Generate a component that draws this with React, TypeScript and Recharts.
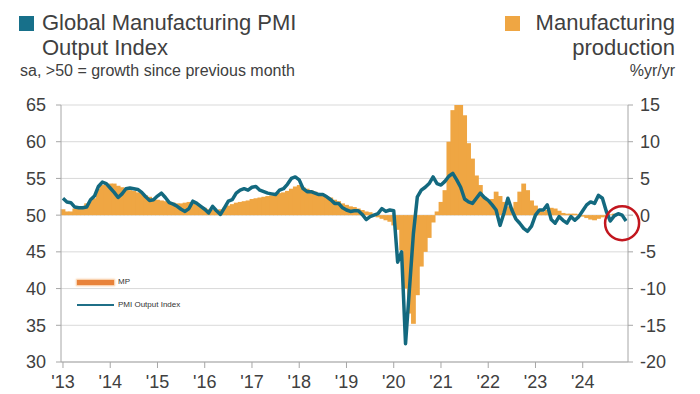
import React from 'react'
import {
  ComposedChart, Bar, Line, XAxis, YAxis, CartesianGrid, ReferenceDot,
} from 'recharts'

const YEARS = [2013, 2014, 2015, 2016, 2017, 2018, 2019, 2020, 2021, 2022, 2023, 2024]
const MONTHS = ['01', '02', '03', '04', '05', '06', '07', '08', '09', '10', '11', '12']

// Global Manufacturing PMI Output Index (sa)
const PMI_OUTPUT = [
  52.3, 51.8, 51.7, 51.1, 51.0, 51.0, 51.1, 52.1, 52.6, 53.9, 54.5, 54.3, // 2013
  53.7, 53.1, 52.4, 52.9, 53.6, 53.7, 53.6, 53.5, 53.1, 52.5, 52.0, 52.1, // 2014
  52.6, 53.0, 52.4, 51.7, 51.5, 51.2, 50.8, 50.5, 50.9, 51.9, 51.6, 51.2, // 2015
  50.8, 50.3, 51.2, 50.6, 50.1, 51.0, 51.9, 52.1, 53.0, 53.4, 53.6, 53.4, // 2016
  53.8, 53.9, 53.4, 53.2, 53.0, 52.9, 52.8, 53.4, 53.6, 54.2, 55.0, 55.2, // 2017
  54.8, 53.6, 53.2, 53.2, 53.0, 52.8, 52.8, 52.5, 52.1, 51.6, 51.6, 51.0, // 2018
  50.7, 50.5, 50.6, 50.6, 50.1, 49.4, 49.8, 50.0, 50.2, 50.9, 50.5, 50.7, // 2019
  50.6, 43.6, 45.0, 32.5, 40.0, 47.5, 52.5, 53.4, 53.8, 54.3, 55.2, 54.3, // 2020
  54.1, 54.6, 55.3, 55.7, 54.8, 53.8, 52.2, 51.8, 51.6, 52.3, 53.0, 52.4, // 2021
  52.0, 51.4, 50.7, 48.6, 50.3, 52.3, 50.7, 49.5, 48.9, 48.2, 47.8, 48.5, // 2022
  50.0, 50.7, 50.7, 51.4, 49.4, 48.9, 49.8, 49.3, 48.9, 49.8, 49.3, 49.8, // 2023
  50.6, 51.4, 51.8, 51.6, 52.7, 52.3, 50.5, 49.2, 49.9, 50.2, 50.0, 49.2, // 2024
]

// Manufacturing production, %yr/yr
const MFG_PRODUCTION = [
  0.8, 0.5, 0.5, 0.9, 1.0, 1.1, 1.6, 1.9, 2.3, 3.6, 4.1, 4.2,
  4.3, 4.3, 4.0, 3.8, 3.5, 3.4, 3.3, 3.1, 3.0, 2.7, 2.5, 2.3,
  2.1, 2.0, 1.9, 1.8, 1.7, 1.6, 1.6, 1.7, 1.8, 1.6, 1.4, 1.2,
  1.0, 0.8, 0.7, 0.7, 0.8, 1.0, 1.3, 1.5, 1.7, 1.8, 1.9, 2.0,
  2.2, 2.3, 2.4, 2.5, 2.6, 2.7, 2.8, 3.0, 3.1, 3.3, 3.6, 3.9,
  4.1, 3.8, 3.6, 3.4, 3.2, 3.0, 2.8, 2.6, 2.4, 2.1, 1.9, 1.6,
  1.4, 1.2, 1.1, 0.9, 0.7, 0.5, 0.4, 0.2, -0.3, -0.5, -0.7, -0.9,
  -1.4, -2.0, -4.8, -10.0, -13.4, -14.8, -10.9, -7.0, -5.0, -3.1, -1.0, 0.5,
  1.8, 3.4, 10.0, 14.3, 15.0, 15.0, 13.6, 9.8, 7.7, 5.4, 4.1, 2.5,
  2.0, 2.2, 3.2, 2.6, 1.8, 1.2, 1.0, 1.8, 3.2, 4.3, 3.4, 2.0,
  1.3, 0.8, 0.5, 0.7, 1.0, 0.9, 0.6, 0.3, 0.2, 0.2, 0.2, 0.1,
  -0.2, -0.4, -0.6, -0.7, -0.5, -0.3, -0.1, 0.1, 0.2, 0.2, null, null,
]

const LEFT_TICKS = [30, 35, 40, 45, 50, 55, 60, 65]
const RIGHT_TICKS = [-20, -15, -10, -5, 0, 5, 10, 15]

const TEAL = '#13697f'
const ORANGE = '#efa643'
const TEXT = '#404040'
const AXIS = '#a6a6a6'

const months = YEARS.flatMap((y) => MONTHS.map((m) => `${y}-${m}`))
const data = months.map((m, i) => ({ m, pmi: PMI_OUTPUT[i], prod: MFG_PRODUCTION[i] }))
const yearTicks = YEARS.map((y) => `${y}-01`)

const tickStyle = { fontSize: 18, fill: TEXT }

// fill the whole month band so the bars read as one stepped area
const StepBar = (p: any) => {
  if (p.height == null || p.y == null) return <g />
  const bx = p.background && p.background.width ? p.background.x : p.x
  const bw = p.background && p.background.width ? p.background.width : p.width
  const top = Math.min(p.y, p.y + p.height)
  const h = Math.abs(p.height)
  return <rect x={bx - 0.4} y={top} width={bw + 0.8} height={h} fill={ORANGE} />
}

export default function App() {
  return (
    <div
      style={{
        position: 'fixed', left: 0, top: 0, width: 700, height: 394,
        background: '#fff', fontFamily: '"Liberation Sans", Arial, sans-serif', color: TEXT,
      }}
    >
      {/* left title */}
      <div style={{ position: 'absolute', left: 19, top: 16, width: 15, height: 15, background: '#17708a' }} />
      <div style={{ position: 'absolute', left: 42, top: 10, fontSize: 22, lineHeight: '25px' }}>
        Global Manufacturing PMI<br />Output Index
      </div>
      <div style={{ position: 'absolute', left: 20, top: 61, fontSize: 16, lineHeight: '20px' }}>
        sa, &gt;50 = growth since previous month
      </div>

      {/* right title */}
      <div style={{ position: 'absolute', left: 505, top: 16, width: 15, height: 15, background: ORANGE }} />
      <div style={{ position: 'absolute', right: 25, top: 10, fontSize: 22, lineHeight: '25px', textAlign: 'right' }}>
        Manufacturing<br />production
      </div>
      <div style={{ position: 'absolute', right: 25, top: 61, fontSize: 16, lineHeight: '20px' }}>
        %yr/yr
      </div>

      <div style={{ position: 'absolute', left: 0, top: 0 }}>
        <ComposedChart
          width={700}
          height={394}
          data={data}
          margin={{ top: 105, right: 22, bottom: 7, left: 11 }}
          barCategoryGap="0%"
          barGap={0}
        >
          <CartesianGrid yAxisId="l" vertical={false} stroke="#d9d9d9" />
          <XAxis
            dataKey="m"
            ticks={yearTicks}
            interval={0}
            tickFormatter={(v: string) => `'${v.slice(2, 4)}`}
            tick={tickStyle}
            tickSize={6}
            tickMargin={7}
            axisLine={{ stroke: AXIS }}
            tickLine={{ stroke: AXIS }}
            height={25}
          />
          <YAxis
            yAxisId="l"
            domain={[30, 65]}
            ticks={LEFT_TICKS}
            interval={0}
            tick={tickStyle}
            tickSize={5}
            tickMargin={10}
            axisLine={{ stroke: AXIS }}
            tickLine={{ stroke: AXIS }}
            width={50}
          />
          <YAxis
            yAxisId="r"
            orientation="right"
            domain={[-20, 15]}
            ticks={RIGHT_TICKS}
            interval={0}
            tick={{ ...tickStyle, textAnchor: 'start' }}
            tickSize={5}
            tickMargin={7}
            axisLine={{ stroke: AXIS }}
            tickLine={{ stroke: AXIS }}
            width={50}
          />
          <Bar
            yAxisId="r"
            dataKey="prod"
            fill={ORANGE}
            shape={StepBar}
            isAnimationActive={false}
          />
          <Line
            yAxisId="l"
            dataKey="pmi"
            type="linear"
            stroke={TEAL}
            strokeWidth={3.5}
            strokeLinejoin="round"
            dot={false}
            isAnimationActive={false}
          />
          <ReferenceDot
            yAxisId="l"
            x="2024-11"
            y={48.9}
            r={17}
            fill="none"
            stroke="#c2161e"
            strokeWidth={2.5}
          />
        </ComposedChart>
      </div>

      {/* in-plot legend */}
      <div style={{ position: 'absolute', left: 77, top: 280, width: 37, height: 5, background: '#e8823a', boxShadow: '0 0 2px 1px #f7c393' }} />
      <div style={{ position: 'absolute', left: 118, top: 277, fontSize: 8, color: '#333' }}>MP</div>
      <div style={{ position: 'absolute', left: 77, top: 304, width: 37, height: 2, background: '#1f6f87' }} />
      <div style={{ position: 'absolute', left: 118, top: 300, fontSize: 8, color: '#333' }}>PMI Output Index</div>
    </div>
  )
}
